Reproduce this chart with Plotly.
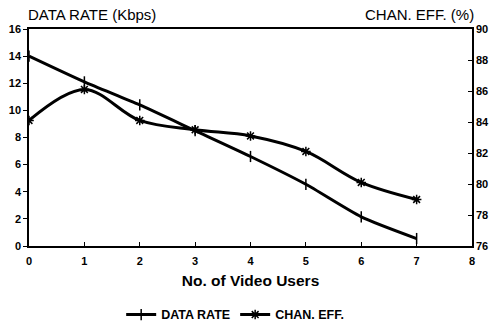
import plotly.graph_objects as go

users = [0, 1, 2, 3, 4, 5, 6, 7]
data_rate = [14.0, 12.1, 10.4, 8.5, 6.6, 4.55, 2.15, 0.55]
chan_eff = [84.1, 86.1, 84.1, 83.5, 83.1, 82.1, 80.1, 79.0]

FONT = "Liberation Sans, Arial, sans-serif"

fig = go.Figure()
fig.add_trace(go.Scatter(
    x=users, y=data_rate, name="DATA RATE", mode="lines+markers",
    line=dict(color="black", width=3, shape="spline", smoothing=0.6),
    marker=dict(symbol="line-ns", size=8, color="black", line=dict(width=1.5, color="black")),
    yaxis="y"))
fig.add_trace(go.Scatter(
    x=users, y=chan_eff, name="CHAN. EFF.", mode="lines+markers",
    line=dict(color="black", width=3, shape="spline", smoothing=1.0),
    marker=dict(symbol="asterisk-open", size=8, color="black", line=dict(width=1.5, color="black")),
    yaxis="y2"))

axis_common = dict(showline=True, linecolor="black", linewidth=1.5, showgrid=False, zeroline=False,
                   automargin=False,
                   tickfont=dict(family=FONT, size=11, color="black", weight="bold"),
                   ticks="outside", ticklen=4, tickcolor="black")

fig.update_layout(
    width=492, height=327,
    margin=dict(l=29, r=20, t=29, b=81),
    paper_bgcolor="white", plot_bgcolor="white",
    showlegend=True,
    legend=dict(orientation="h", x=0.478, xanchor="center", xref="container",
                y=0.037, yanchor="middle", yref="container",
                font=dict(family=FONT, size=12.5, color="black", weight="bold"), itemwidth=30),
    xaxis=dict(range=[0, 8], dtick=1, mirror=True, ticklabelstandoff=4,
               title=dict(text="No. of Video Users", font=dict(family=FONT, size=15.5, color="black", weight="bold"), standoff=9),
               **{**axis_common, "ticks": "inside"}),
    yaxis=dict(range=[0, 16], dtick=2, **axis_common),
    yaxis2=dict(range=[76, 90], dtick=2, overlaying="y", side="right", **{**axis_common, "ticks": "inside"}),
    annotations=[
        dict(text="DATA RATE (Kbps)", xref="paper", yref="paper", x=0.0, y=1.0, xanchor="left", yanchor="bottom",
             xshift=-3, yshift=4, showarrow=False, font=dict(family=FONT, size=15, color="black")),
        dict(text="CHAN. EFF. (%)", xref="paper", yref="paper", x=1.0, y=1.0, xanchor="right", yanchor="bottom",
             xshift=4, yshift=4, showarrow=False, font=dict(family=FONT, size=15, color="black")),
    ],
)

fig.write_html("out.html", config={"displayModeBar": False},
               post_script="document.body.style.margin='0';document.body.style.overflow='hidden';")
